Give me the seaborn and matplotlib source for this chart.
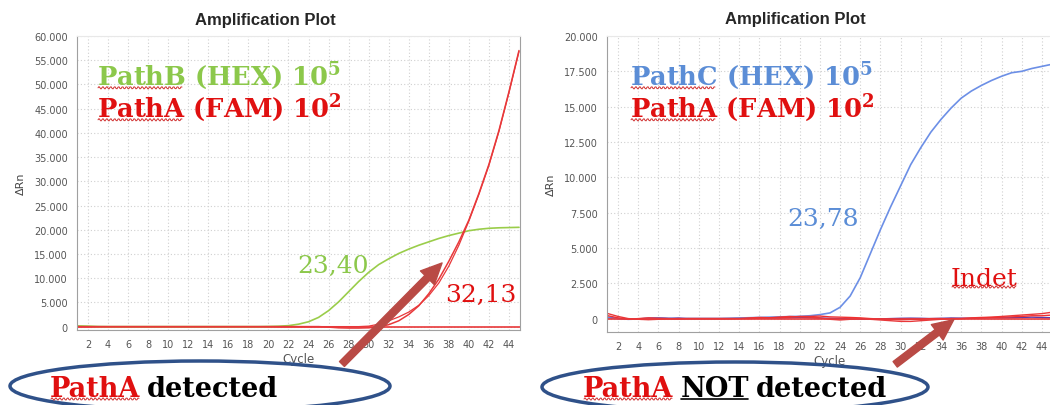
import numpy as np
import matplotlib
matplotlib.use("Agg")
import matplotlib.pyplot as plt
import seaborn as sns
from matplotlib.patches import Ellipse, FancyArrowPatch
from matplotlib.lines import Line2D
from matplotlib.transforms import IdentityTransform
from matplotlib.ticker import FuncFormatter, FixedLocator

# =========================================
#            DATA
# =========================================
cycles = list(range(1, 46))

# left panel: PathB (HEX) 10^5 + PathA (FAM) 10^2
pathb_hex = [150, 100, 20, 0, 0, 0, 0, 0, 0, 0, 0, 0, 0, 0, 0, 0, 0, 0, 0, 30,
             80, 200, 500, 1000, 1900, 3300, 5100, 7200, 9300, 11200, 12800, 14000, 15100, 16000, 16800,
             17500, 18200, 18800, 19300, 19800, 20100, 20300, 20400, 20450, 20500]
patha_fam_a = [0, 0, 0, 0, 0, 0, 0, 0, 0, 0, 0, 0, 0, 0, 0, 0, 0, 0, 0, 0,
               0, 0, 0, 0, 0, -100, -250, -300, -300, -250, -50, 400, 1200, 2500, 4300,
               6800, 9800, 13500, 17500, 22000, 27500, 33500, 40500, 48500, 57000]
patha_fam_b = [0, 0, 0, 0, 0, 0, 0, 0, 0, 0, 0, 0, 0, 0, 0, 0, 0, 0, 0, 0,
               0, 0, 0, 0, 0, 0, 0, 0, 0, 100, 500, 1200, 2000, 3000, 4400,
               6400, 9000, 12500, 16800, 21800, 27300, 33300, 40300, 48300, 56800]

# right panel: PathC (HEX) 10^5 + PathA (FAM) 10^2 (Indet)
pathc_hex = [50, 0, -50, -30, 0, 30, 0, -20, 0, 0, 0, 0, 20, 40, 60, 80, 100, 120, 140, 160,
             200, 280, 400, 800, 1600, 2900, 4600, 6300, 7900, 9400, 10900, 12100, 13200, 14100, 14900,
             15600, 16100, 16500, 16850, 17150, 17400, 17500, 17700, 17850, 18000]
patha_fam_c = [350, 150, 0, -50, -80, -50, -20, 0, 0, 0, 0, 0, 0, 0, 50, 80, 60, 100, 150, 120,
               100, 50, -50, -100, -50, 0, -50, -100, -150, -200, -200, -150, -100, -50, 0,
               0, 50, 80, 100, 150, 200, 250, 300, 350, 450]
patha_fam_d = [200, 50, -50, 0, 50, 20, 0, -30, 0, 0, 0, 0, 0, 0, 0, 30, 50, 80, 100, 150,
               150, 180, 120, 100, 80, 50, 0, -30, -50, -80, -50, -50, 0, 0, -30,
               0, 20, 50, 80, 100, 120, 150, 200, 200, 250]
pathc_noise = [100, 0, -40, -20, 30, 60, 20, 40, 0, 0, 0, 0, 0, 20, 40, 60, 50, 40, 60, 80,
               60, 40, 20, 0, -20, -40, -30, -20, 0, 20, 30, 20, 0, 20, 40,
               30, 20, 40, 60, 50, 60, 80, 100, 80, 60]

left_yticks = list(range(0, 60001, 5000))
right_yticks = list(range(0, 20001, 2500))
xticks = list(range(2, 45, 2))

GREEN = "#9ACD4A"
GREEN_TXT = "#8CC84B"
RED = "#E8383A"
RED_TXT = "#E01010"
BLUE = "#6C8FE6"
BLUE_TXT = "#5B8DD6"
ARROW = "#B94A45"
ELL = "#2F5189"

# =========================================
#            FIGURE
# =========================================
sns.set_style("white")
plt.rcParams["mathtext.fontset"] = "dejavuserif"
W, H = 1050, 406
fig = plt.figure(figsize=(W / 100, H / 100), dpi=100)


def fx(x):
    return x / W


def fy(y):
    return 1 - y / H


ax1 = fig.add_axes([fx(77), fy(331), (520 - 77) / W, (331 - 37) / H])
ax2 = fig.add_axes([fx(607), fy(333), (1053 - 607) / W, (333 - 37) / H])

thou = FuncFormatter(lambda v, p: "{:,.0f}".format(v).replace(",", "."))

for ax, ticks, lim, tx in [(ax1, left_yticks, (-700, 60000), (265 - 77) / 443),
                           (ax2, right_yticks, (-950, 20000), (795 - 607) / 446)]:
    ax.set_xlim(0.9, 45.1)
    ax.set_ylim(*lim)
    ax.yaxis.set_major_locator(FixedLocator(ticks))
    ax.xaxis.set_major_locator(FixedLocator(xticks))
    ax.yaxis.set_major_formatter(thou)
    ax.grid(True, color="#d0d0d0", linestyle=(0, (1, 2)), linewidth=0.8)
    ax.tick_params(labelsize=7, colors="#555555", length=3, width=0.6)
    for s in ax.spines.values():
        s.set_color("#a0a0a0")
        s.set_linewidth(0.8)
    ax.spines["top"].set_color("#e8e8e8")
    ax.set_title("Amplification Plot", fontsize=12, fontweight="bold",
                 family="Liberation Sans", pad=9, x=tx)
    ax.set_xlabel("Cycle", fontsize=8.5, color="#555555", labelpad=2)
    ax.set_ylabel("ΔRn", fontsize=8, color="#444444", labelpad=6)

# ---- left curves
ax1.axhline(0, color=RED, lw=1.2, zorder=2)
sns.lineplot(x=cycles, y=pathb_hex, color=GREEN, lw=1.2, ax=ax1)
sns.lineplot(x=cycles, y=patha_fam_a, color=RED, lw=1.1, ax=ax1)
sns.lineplot(x=cycles, y=patha_fam_b, color=RED, lw=0.9, ax=ax1)

# ---- right curves
sns.lineplot(x=cycles, y=pathc_noise, color="#5A3AA8", lw=1.0, ax=ax2)
sns.lineplot(x=cycles, y=pathc_hex, color=BLUE, lw=1.2, ax=ax2)
sns.lineplot(x=cycles, y=patha_fam_c, color=RED, lw=1.0, ax=ax2)
sns.lineplot(x=cycles, y=patha_fam_d, color="#F03030", lw=1.0, ax=ax2)
ax2.axhline(0, color=RED, lw=1.2, zorder=2)

# =========================================
#            ANNOTATIONS
# =========================================
big = dict(family="DejaVu Serif", fontweight="bold", fontsize=18.5, va="baseline", ha="left")
bot = dict(big, fontsize=19.5)
ct = dict(family="DejaVu Serif", fontsize=18, va="baseline", ha="left")

t_b = fig.text(fx(97), fy(85), r"PathB (HEX) 10$^{\mathbf{5}}$", color=GREEN_TXT, **big)
t_a1 = fig.text(fx(97), fy(117), r"PathA (FAM) 10$^{\mathbf{2}}$", color=RED_TXT, **big)
t_c = fig.text(fx(630), fy(85), r"PathC (HEX) 10$^{\mathbf{5}}$", color=BLUE_TXT, **big)
t_a2 = fig.text(fx(630), fy(117), r"PathA (FAM) 10$^{\mathbf{2}}$", color=RED_TXT, **big)

fig.text(fx(297), fy(273), "23,40", color=GREEN_TXT, **ct)
fig.text(fx(445), fy(302), "32,13", color=RED_TXT, **ct)
fig.text(fx(787), fy(226), "23,78", color=BLUE_TXT, **ct)
t_ind = fig.text(fx(951), fy(286), "Indet", color=RED_TXT, **ct)

# arrows
for tail, head in [((340, 367), (444, 262)), ((893, 367), (956, 319))]:
    fig.add_artist(FancyArrowPatch((fx(tail[0]), fy(tail[1])), (fx(head[0]), fy(head[1])),
                                   transform=fig.transFigure,
                                   arrowstyle="simple,head_length=1.5,head_width=1.4,tail_width=0.5",
                                   mutation_scale=10, color=ARROW, zorder=10))

# ellipses
for cx, cy, ew in [(200, 387, 380), (735, 388, 386)]:
    fig.add_artist(Ellipse((fx(cx), fy(cy)), ew / W, 50 / H, transform=fig.transFigure,
                           fill=False, edgecolor=ELL, lw=2.5, zorder=9))

t_bot1 = fig.text(fx(50), fy(397), "PathA", color=RED_TXT, zorder=11, **bot)
t_bot2 = fig.text(fx(583), fy(397), "PathA", color=RED_TXT, zorder=11, **bot)

fig.canvas.draw()
renderer = fig.canvas.get_renderer()
base_y = fy(397) * H  # baseline in pixels for the bottom lines


def after(txt, s, color, gap=7):
    bb = txt.get_window_extent(renderer)
    return fig.text(bb.x1 + gap, base_y, s, color=color, transform=IdentityTransform(),
                    zorder=11, **bot)


def word_width(s, style):
    tmp = fig.text(0, 0, s, **style)
    w = tmp.get_window_extent(renderer).width
    tmp.remove()
    return w


def squiggle(txt, upto=None):
    bb = txt.get_window_extent(renderer)
    x0 = bb.x0 + 1
    x1 = x0 + (upto if upto is not None else bb.width) - 2
    xs = np.arange(x0, x1, 1.0)
    ys = bb.y0 + 3 + 1.2 * np.sin((xs - x0) * 1.6)
    fig.add_artist(Line2D(xs, ys, color="#D03030", lw=0.7, transform=IdentityTransform(), zorder=12))


after(t_bot1, "detected", "black")
t_not = after(t_bot2, "NOT", "black")
after(t_not, "detected", "black")

nb = t_not.get_window_extent(renderer)
fig.add_artist(Line2D([nb.x0 + 1, nb.x1 - 1], [base_y - 3, base_y - 3], color="black", lw=1.2,
                      transform=IdentityTransform(), zorder=12))

pw = word_width("PathA", big)
cw = word_width("PathC", big)
pwb = word_width("PathA", bot)
for t, w in [(t_b, pw), (t_a1, pw), (t_c, cw), (t_a2, pw), (t_bot1, pwb), (t_bot2, pwb), (t_ind, None)]:
    squiggle(t, w)

fig.savefig("out.png", dpi=100)
